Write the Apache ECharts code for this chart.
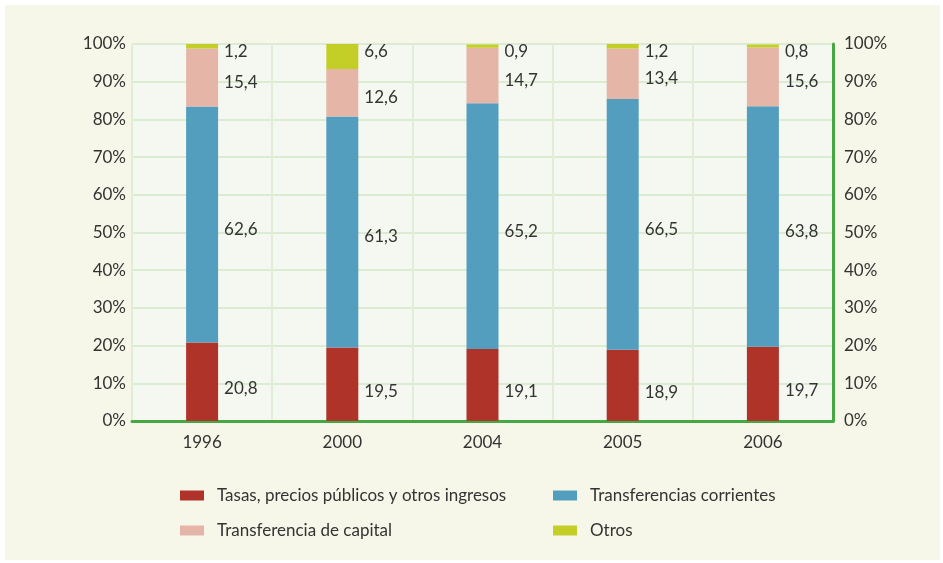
<!DOCTYPE html>
<html><head><meta charset="utf-8">
<script src="https://cdn.jsdelivr.net/npm/echarts@6/dist/echarts.min.js"></script>
<style>
html,body{margin:0;padding:0;background:#ffffff;width:943px;height:563px;overflow:hidden}
#c{position:absolute;left:5px;top:5px;width:935px;height:555px}
</style></head>
<body><div id="c"></div>
<script>
const categories = ['1996','2000','2004','2005','2006'];
const tasas = [20.8, 19.5, 19.1, 18.9, 19.7];
const corrientes = [62.6, 61.3, 65.2, 66.5, 63.8];
const capital = [15.4, 12.6, 14.7, 13.4, 15.6];
const otros = [1.2, 6.6, 0.9, 1.2, 0.8];
const names = ['Tasas, precios públicos y otros ingresos','Transferencias corrientes','Transferencia de capital','Otros'];
const colors = ['#b0332a','#539ebf','#e5b6a7','#c3cf26'];

const FONT = 'Lato';
const FS = 17;
const fmt = p => String(p.value).replace('.', ',');
function mk(name, data, color, labelCfg){
  return {
    name, type:'bar', stack:'t', data, barWidth:32,
    itemStyle:{color},
    label:Object.assign({show:true, formatter:fmt, color:'#333', fontFamily:FONT, fontSize:FS}, labelCfg)
  };
}
const chart = echarts.init(document.getElementById('c'));
chart.setOption({
  backgroundColor:'#f7f7e9',
  textStyle:{fontFamily:FONT},
  animation:false,
  grid:{left:127, top:39, width:701, height:377, show:true, backgroundColor:'#f4f8f0', borderWidth:0},
  legend:[
    {data:[names[0], names[2]], orient:'vertical', left:170, top:477, itemWidth:24, itemHeight:10, itemGap:18,
     textStyle:{fontFamily:FONT, fontSize:FS, color:'#333', padding:[0,0,0,8]}, icon:'rect'},
    {data:[names[1], names[3]], orient:'vertical', left:543, top:477, itemWidth:24, itemHeight:10, itemGap:18,
     textStyle:{fontFamily:FONT, fontSize:FS, color:'#333', padding:[0,0,0,8]}, icon:'rect'}
  ],
  xAxis:{type:'category', data:categories, boundaryGap:true,
    axisLine:{show:true, lineStyle:{color:'#46a842', width:3}},
    axisTick:{show:false},
    axisLabel:{color:'#333', fontFamily:FONT, fontSize:FS, margin:13},
    splitLine:{show:true, lineStyle:{color:'#e0eed8', width:2}}
  },
  yAxis:[
    {type:'value', min:0, max:100, interval:10, position:'left',
     axisLine:{show:false}, axisTick:{show:false},
     axisLabel:{formatter:'{value}%', color:'#333', fontFamily:FONT, fontSize:FS, margin:6},
     splitLine:{show:true, lineStyle:{color:'#dcecd3', width:2}}},
    {type:'value', min:0, max:100, interval:10, position:'right',
     axisLine:{show:true, lineStyle:{color:'#46a842', width:3}}, axisTick:{show:false},
     axisLabel:{formatter:'{value}%', color:'#333', fontFamily:FONT, fontSize:FS, margin:11},
     splitLine:{show:false}}
  ],
  series:[
    mk(names[0], tasas, colors[0], {position:'right', distance:6, offset:[0,7]}),
    mk(names[1], corrientes, colors[1], {position:'right', distance:6, offset:[0,5]}),
    mk(names[2], capital, colors[2], {position:'right', distance:6, offset:[0,5]}),
    mk(names[3], otros, colors[3], {position:['100%',0], align:'left', verticalAlign:'top', offset:[6,-1]})
  ]
});
</script></body></html>
